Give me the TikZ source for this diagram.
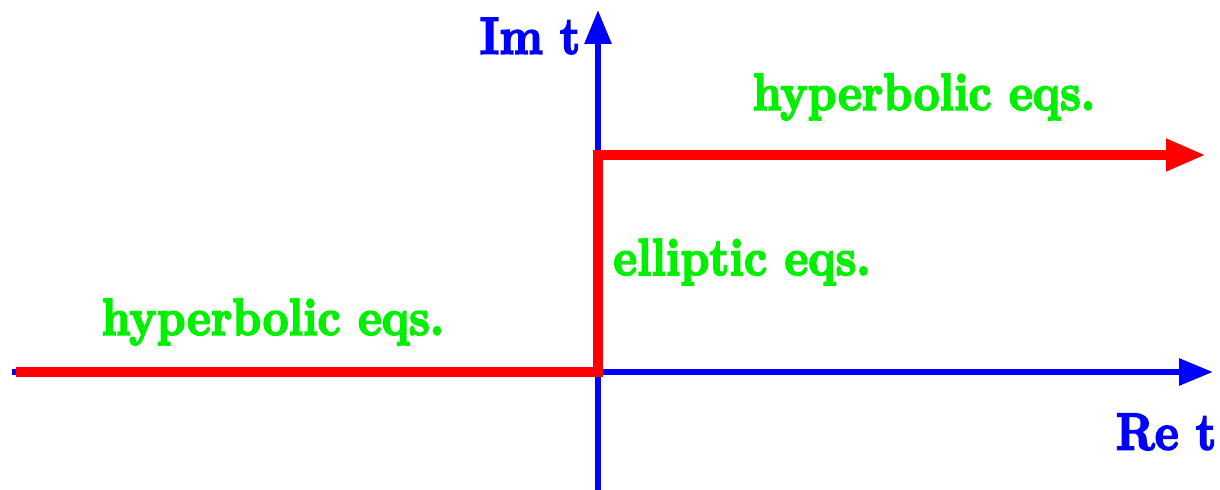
\documentclass[tikz,border=0pt]{standalone}
\usepackage{fontspec}
\usepackage{graphicx}
\newfontfamily\heavyfont{lmroman10-bold.otf}[FakeBold=3.5]
\newcommand{\narrowtext}[1]{\scalebox{0.87}[1]{#1}}
\usetikzlibrary{arrows.meta}
\definecolor{axblue}{RGB}{0,0,255}
\definecolor{pred}{RGB}{255,0,0}
\definecolor{lgreen}{RGB}{0,240,0}
\begin{document}
\begin{tikzpicture}[x=0.5pt,y=-0.5pt,
  axis/.style={draw=axblue,line width=3pt,-{Triangle[length=17pt,width=13pt]}},
  redpath/.style={draw=pred,line width=5pt,-{Triangle[length=20pt,width=15pt]}},
  axlabel/.style={text=axblue,font=\fontsize{26}{30}\selectfont\heavyfont},
  eqlabel/.style={text=lgreen,font=\fontsize{26}{30}\selectfont\heavyfont}]
\useasboundingbox (0,0) rectangle (1220,490);
\coordinate (xs) at (12,372);
\coordinate (xe) at (1213,372);
\coordinate (ys) at (598,490);
\coordinate (ye) at (598,10);
\coordinate (rs) at (16,372);
\coordinate (o) at (598,372);
\coordinate (c) at (598,155);
\coordinate (re) at (1206,155);
\draw[axis] (xs) -- (xe);
\draw[axis] (ys) -- (ye);
\draw[redpath,line join=miter] (rs) -- (o) -- (c) -- (re);
\node[axlabel] (im) at (530,36) {\narrowtext{Im t}};
\node[axlabel] (rel) at (1166,432) {\narrowtext{Re t}};
\node[eqlabel] (h1) at (924,97) {\narrowtext{hyperbolic eqs.}};
\node[eqlabel] (el) at (742,262) {\narrowtext{elliptic eqs.}};
\node[eqlabel] (h2) at (273,322) {\narrowtext{hyperbolic eqs.}};
\end{tikzpicture}
\end{document}
